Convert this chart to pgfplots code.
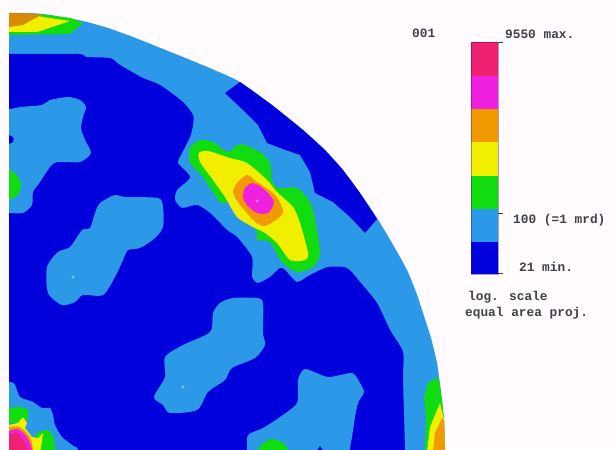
\documentclass[border=0pt]{standalone}
\usepackage{fontspec}
\setmainfont{Liberation Sans}
\newfontfamily\dosfont[Scale=1]{Liberation Mono}
\usepackage{pgfplots}
\pgfplotsset{compat=1.18}
\definecolor{bgc}{HTML}{FFFBFF}
\definecolor{lb}{HTML}{2C98E8}
\definecolor{db}{HTML}{0000DC}
\definecolor{gr}{HTML}{10DC10}
\definecolor{ye}{HTML}{F2EE00}
\definecolor{orc}{HTML}{F09A00}
\definecolor{mg}{HTML}{F020E0}
\definecolor{cr}{HTML}{EE2070}
\definecolor{txt}{HTML}{404048}
\definecolor{speck}{HTML}{80C8F4}
\pgfplotsset{
  poly/.style={fill=#1,draw=none,mark=none,forget plot},
  sopen/.style={fill=#1,draw=none,mark=none,forget plot,smooth,tension=0.4},
  spoly/.style={fill=#1,draw=none,mark=none,forget plot,/tikz/smooth cycle,tension=0.45},
}
\begin{document}
\begin{tikzpicture}
\useasboundingbox (0,0.5pt) rectangle (615pt,450pt);
\begin{axis}[scale only axis,width=615pt,height=450pt,xmin=0,xmax=615,ymin=0,ymax=450,y dir=reverse,hide axis,clip=true]
% background
\addplot[poly=bgc] coordinates {(0,0)(615,0)(615,460)(0,460)} -- cycle;
% disc
\addplot[sopen=lb] coordinates {(-30,13)(9,13)(30,13)(50,15)(83,21)(108,28)(133,37)(158,47)(183,57)(212,69)(240,82)(272,105)(303,130)(325,150)(343,170)(360,193)(377,218)(392,243)(407,270)(416,292)(423,313)(431,338)(437,363)(441,392)(444,420)(445,450)(445,490)(-30,490)} -- cycle;
% main dark region
\addplot[sopen=db] coordinates {(-30,54)(9,54)(78,54)(86,57)(110,58)(120,65)(143,78)(160,85)(183,102)(193,115)(193,125)(190,137)(182,153)(178,163)(190,177)(177,190)(175,200)(182,208)(197,205)(210,213)(227,230)(237,237)(252,257)(252,277)(258,283)(270,277)(280,268)(285,270)(297,282)(310,275)(328,267)(347,268)(360,282)(377,303)(390,330)(403,352)(403,380)(405,450)(405,490)(-30,490)} -- cycle;
% upper right band
\addplot[poly=db] coordinates {(240,82)(225,93)(243,110)(258,125)(267,143)(283,149)(300,155)(310,172)(315,193)(333,202)(350,217)(365,233)(377,219)(360,193)(343,170)(325,150)(303,130)(272,105)} -- cycle;
% light blobs
\addplot[sopen=lb] coordinates {(-30,109)(9,109)(20,107)(42,105)(50,100)(68,97)(80,100)(86,107)(83,117)(81,128)(85,140)(91,153)(80,162)(57,162)(50,167)(40,182)(33,192)(32,205)(23,213)(9,213)(-30,213)} -- cycle;
\addplot[spoly=db] coordinates {(6,135)(13,137)(13,142)(6,144)};
\addplot[spoly=gr] coordinates {(0,168)(9,170)(17,175)(21,185)(18,195)(9,200)(0,202)};
\addplot[spoly=lb] coordinates {(100,203)(115,195)(125,197)(158,198)(163,207)(163,227)(155,238)(140,248)(128,250)(123,260)(115,277)(103,295)(83,295)(75,302)(62,305)(48,293)(47,267)(58,252)(70,247)(82,230)(90,228)(95,213)};
\addplot[spoly=lb] coordinates {(220,303)(233,298)(257,298)(263,303)(263,333)(265,345)(255,358)(232,368)(225,380)(208,392)(197,410)(170,413)(163,405)(154,397)(165,377)(165,357)(183,345)(210,332)(213,313)};
\addplot[sopen=lb] coordinates {(247,490)(247,450)(248,435)(263,428)(280,417)(297,403)(298,380)(305,369)(328,377)(352,373)(360,383)(364,392)(358,403)(355,417)(352,437)(350,450)(350,490)} -- cycle;
\addplot[spoly=gr] coordinates {(258,450)(265,442)(273,439)(283,443)(288,450)(283,462)(263,462)};
\addplot[poly=db] coordinates {(316,452)(320,446)(324,452)} -- cycle;
% light specks
\addplot[only marks,mark=*,mark size=1.4pt,color=speck,forget plot] coordinates {(73,277)(183,387)};
% top left
\addplot[poly=gr] coordinates {(9,35)(70,34)(83,23)(70,18)(40,14)(9,13)} -- cycle;
\addplot[poly=ye] coordinates {(9,32)(37,32)(70,21)(43,17)(30,14)(9,14)} -- cycle;
\addplot[poly=orc!90!black] coordinates {(9,27)(23,25)(37,17)(43,15)(30,13.5)(9,13)} -- cycle;
% central peak
\addplot[spoly=gr] coordinates {(190,148)(200,140)(213,142)(228,152)(240,144)(260,152)(270,163)(272,180)(278,188)(297,188)(310,202)(315,220)(320,253)(313,267)(297,272)(282,262)(270,242)(257,240)(257,232)(250,223)(230,203)(220,202)(203,177)(190,163)};
\addplot[spoly=ye] coordinates {(199,153)(208,151)(230,158)(247,163)(267,180)(277,192)(293,207)(300,223)(308,253)(305,260)(290,260)(277,243)(265,233)(253,227)(237,217)(225,197)(213,180)(200,162)};
\addplot[spoly=orc] coordinates {(237,183)(247,175)(257,182)(275,195)(283,213)(265,226)(253,220)(238,202)(233,192)};
\addplot[spoly=mg] coordinates {(245,188)(253,183)(265,190)(274,202)(268,213)(257,213)(247,205)(243,197)};
\addplot[only marks,mark=*,mark size=1.2pt,color=mg!40!white,forget plot] coordinates {(257,201)};
% bottom left
\addplot[sopen=lb] coordinates {(-30,382)(9,382)(15,385)(20,397)(33,402)(42,408)(50,408)(53,415)(55,425)(62,437)(75,447)(78,450)(90,490)(-30,490)} -- cycle;
\addplot[spoly=gr] coordinates {(0,408)(9,408)(20,407)(28,410)(27,420)(20,423)(9,423)(0,423)};
\addplot[spoly=gr] coordinates {(35,437)(45,430)(53,435)(55,450)(53,465)(42,465)};
\addplot[poly=ye] coordinates {(9,425)(18,423)(23,417)(27,423)(25,428)(32,437)(38,438)(43,433)(42,442)(40,452)(9,452)} -- cycle;
\addplot[spoly=orc] coordinates {(0,427)(9,427)(20,427)(30,437)(33,450)(33,470)(0,470)};
\addplot[spoly=mg] coordinates {(0,431)(9,431)(18,429)(27,437)(32,450)(30,470)(0,470)};
\addplot[spoly=cr] coordinates {(0,435)(9,435)(17,433)(23,440)(27,450)(25,470)(0,470)};
% bottom right
\addplot[poly=gr] coordinates {(438,377)(428,383)(424,397)(426,417)(425,452)(445,452)(444,420)(441,392)} -- cycle;
\addplot[poly=ye] coordinates {(440,403)(430,427)(427,452)(445,452)(444,420)} -- cycle;
\addplot[poly=orc] coordinates {(442,418)(435,433)(433,452)(445,452)(444,420)} -- cycle;
% left strip
\addplot[poly=bgc] coordinates {(-5,-5)(9,-5)(9,460)(-5,460)} -- cycle;
% scale bar
\addplot[poly=cr] coordinates {(471,42)(498,42)(498,76)(471,76)} -- cycle;
\addplot[poly=mg] coordinates {(471,76)(498,76)(498,109)(471,109)} -- cycle;
\addplot[poly=orc] coordinates {(471,109)(498,109)(498,142)(471,142)} -- cycle;
\addplot[poly=ye] coordinates {(471,142)(498,142)(498,176)(471,176)} -- cycle;
\addplot[poly=gr] coordinates {(471,176)(498,176)(498,209)(471,209)} -- cycle;
\addplot[poly=lb] coordinates {(471,209)(498,209)(498,242)(471,242)} -- cycle;
\addplot[poly=db] coordinates {(471,242)(498,242)(498,274)(471,274)} -- cycle;
\addplot[draw=black!70!mg,draw opacity=0.4,line width=0.5pt,mark=none,forget plot] coordinates {(471,42)(498,42)(498,274)(471,274)} -- cycle;
% ticks
\addplot[color=txt,line width=0.5pt,forget plot] coordinates {(498,42)(503,42)};
\addplot[color=txt,line width=0.5pt,forget plot] coordinates {(498,213)(503,213)};
\addplot[color=txt,line width=0.5pt,forget plot] coordinates {(498,273)(503,273)};
% texts
\tikzset{lab/.style={anchor=west,inner sep=0pt,text=txt,font=\dosfont\bfseries\fontsize{12.8}{13}\selectfont}}
\node[lab] at (axis cs:412,33) {001};
\node[lab] at (axis cs:505,34) {9550 max.};
\node[lab] at (axis cs:513,220) {100 (=1 mrd)};
\node[lab] at (axis cs:519,267) {21 min.};
\node[lab] at (axis cs:468,297) {log. scale};
\node[lab] at (axis cs:465,313) {equal area proj.};
\end{axis}
\end{tikzpicture}
\end{document}
